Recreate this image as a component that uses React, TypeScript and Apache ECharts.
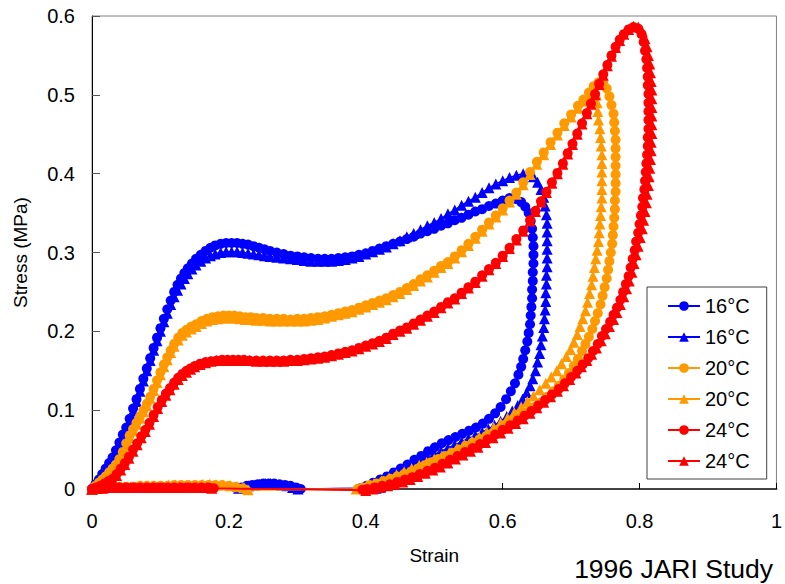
import React, { useEffect, useRef } from "react";
import * as echarts from "echarts";

const FONT = "'Liberation Sans', Arial, sans-serif";

const legendNames = ["16°C", "16°C", "20°C", "20°C", "24°C", "24°C"];
const xTicks = { min: 0, max: 1, interval: 0.2 };
const yTicks = { min: 0, max: 0.6, interval: 0.1 };

const blueCircles: number[][] = [
  [0,0],[.005,.006],[.01,.012],[.015,.019],[.02,.026],[.025,.033],[.03,.04],[.035,.049],[.04,.059],[.045,.069],[.05,.078],[.055,.089],[.06,.102],[.065,.114],[.07,.127],[.075,.14],[.08,.153],[.085,.166],[.09,.179],[.095,.192],[.1,.204],[.105,.216],[.11,.228],[.115,.239],[.12,.25],[.125,.259],[.13,.267],[.135,.274],[.14,.28],[.146,.286],[.152,.292],[.159,.297],[.166,.302],[.173,.306],[.18,.309],[.188,.311],[.196,.312],[.204,.312],[.212,.312],[.22,.311],[.228,.31],[.236,.308],[.244,.306],[.252,.304],[.26,.302],[.27,.3],[.28,.298],[.29,.296],[.3,.295],[.31,.294],[.32,.293],[.33,.292],[.34,.292],[.35,.292],[.36,.293],[.37,.294],[.38,.295],[.39,.297],[.4,.299],[.41,.302],[.42,.305],[.43,.308],[.44,.311],[.45,.314],[.46,.317],[.47,.32],[.48,.324],[.49,.327],[.5,.33],[.51,.334],[.52,.337],[.53,.341],[.54,.344],[.55,.348],[.56,.352],[.57,.355],[.58,.359],[.59,.362],[.6,.366],[.61,.369],[.619,.368],[.627,.364],[.633,.358],[.638,.35],[.641,.34],[.643,.33],[.644,.319],[.645,.308],[.645,.297],[.645,.286],[.644,.275],[.644,.264],[.643,.253],[.643,.242],[.642,.231],[.641,.22],[.64,.209],[.638,.198],[.636,.187],[.633,.176],[.63,.165],[.627,.155],[.623,.145],[.618,.134],[.612,.124],[.605,.114],[.597,.104],[.589,.096],[.58,.089],[.571,.083],[.561,.078],[.551,.074],[.541,.07],[.531,.066],[.521,.062],[.511,.058],[.501,.053],[.491,.048],[.481,.042],[.471,.037],[.461,.031],[.451,.026],[.441,.021],[.431,.016],[.421,.012],[.411,.008],[.401,.004],[.392,.001],[.305,0],[.298,.002],[.29,.004],[.282,.005],[.274,.006],[.266,.007],[.258,.007],[.25,.007],[.242,.006],[.234,.005],[.226,.004],[.218,.002],[.212,.001],[.02,.005],[0,0]
];

const blueTriangles: number[][] = [
  [0,0],[.005,.005],[.01,.011],[.015,.018],[.02,.025],[.025,.032],[.03,.039],[.035,.047],[.04,.057],[.045,.067],[.05,.076],[.055,.087],[.06,.099],[.065,.111],[.07,.124],[.075,.137],[.08,.15],[.085,.163],[.09,.176],[.095,.188],[.1,.2],[.105,.212],[.11,.223],[.115,.234],[.12,.244],[.125,.252],[.13,.26],[.135,.267],[.14,.273],[.146,.279],[.152,.284],[.159,.289],[.166,.293],[.173,.296],[.18,.298],[.188,.3],[.196,.301],[.204,.301],[.212,.301],[.22,.3],[.228,.299],[.236,.298],[.244,.297],[.252,.296],[.26,.295],[.27,.294],[.28,.293],[.29,.292],[.3,.291],[.31,.29],[.32,.289],[.33,.289],[.34,.289],[.35,.289],[.36,.29],[.37,.291],[.38,.293],[.39,.295],[.4,.298],[.41,.301],[.42,.304],[.43,.307],[.44,.311],[.45,.315],[.46,.32],[.47,.324],[.48,.329],[.49,.334],[.5,.338],[.51,.343],[.52,.349],[.53,.354],[.54,.36],[.55,.365],[.56,.37],[.57,.376],[.58,.382],[.59,.387],[.6,.391],[.61,.395],[.62,.398],[.63,.4],[.638,.4],[.645,.396],[.651,.389],[.656,.38],[.66,.37],[.662,.359],[.664,.348],[.665,.337],[.665,.326],[.665,.315],[.665,.304],[.665,.293],[.665,.282],[.664,.271],[.664,.26],[.663,.249],[.663,.238],[.662,.227],[.661,.216],[.66,.205],[.658,.194],[.656,.183],[.654,.172],[.651,.161],[.648,.15],[.644,.14],[.64,.131],[.635,.122],[.629,.114],[.622,.106],[.614,.099],[.606,.092],[.597,.086],[.588,.081],[.579,.076],[.57,.072],[.56,.068],[.55,.064],[.54,.06],[.53,.056],[.52,.052],[.51,.048],[.5,.044],[.49,.039],[.48,.033],[.47,.028],[.46,.022],[.45,.017],[.44,.012],[.43,.007],[.422,.003],[.415,.001],[.301,0],[.293,.002],[.285,.004],[.277,.005],[.269,.006],[.261,.007],[.253,.007],[.245,.006],[.237,.005],[.229,.004],[.221,.002],[.214,.001],[.02,.004],[0,0]
];

const orangeCircles: number[][] = [
  [0,0],[.005,.004],[.01,.008],[.015,.012],[.02,.016],[.025,.021],[.03,.026],[.035,.031],[.04,.038],[.045,.047],[.05,.058],[.055,.068],[.06,.076],[.065,.084],[.07,.092],[.075,.1],[.08,.108],[.085,.117],[.09,.127],[.095,.138],[.1,.148],[.105,.158],[.11,.167],[.115,.176],[.12,.184],[.126,.192],[.132,.198],[.138,.202],[.145,.206],[.152,.209],[.16,.213],[.168,.216],[.176,.218],[.184,.219],[.192,.22],[.2,.22],[.208,.22],[.216,.219],[.224,.218],[.232,.218],[.24,.217],[.25,.217],[.26,.216],[.27,.216],[.28,.216],[.29,.215],[.3,.216],[.31,.216],[.32,.217],[.33,.218],[.34,.219],[.35,.221],[.36,.223],[.37,.225],[.38,.227],[.39,.23],[.4,.233],[.41,.236],[.42,.239],[.43,.242],[.44,.246],[.45,.25],[.46,.255],[.47,.26],[.48,.266],[.49,.271],[.5,.277],[.51,.283],[.52,.288],[.53,.295],[.54,.303],[.55,.311],[.56,.32],[.57,.329],[.58,.338],[.59,.347],[.6,.356],[.61,.366],[.62,.376],[.63,.389],[.64,.402],[.65,.415],[.66,.427],[.67,.44],[.68,.452],[.69,.464],[.7,.475],[.71,.486],[.718,.494],[.726,.503],[.733,.511],[.74,.516],
  [.747,.515],[.752,.508],[.756,.498],[.759,.487],[.762,.476],[.763,.465],[.764,.454],[.765,.443],[.765,.432],[.765,.421],[.765,.41],[.765,.399],[.765,.388],[.765,.377],[.764,.366],[.764,.355],[.763,.344],[.762,.333],[.761,.322],[.76,.311],[.758,.3],[.756,.289],[.754,.278],[.752,.267],[.749,.256],[.746,.245],[.743,.234],[.739,.223],[.735,.213],[.731,.203],[.726,.193],[.721,.184],[.716,.175],[.71,.165],[.704,.156],[.697,.147],[.69,.139],[.682,.131],[.674,.124],[.665,.117],[.656,.11],[.646,.104],[.636,.098],[.626,.092],[.616,.086],[.606,.081],[.596,.076],[.586,.071],[.576,.067],[.566,.063],[.556,.059],[.546,.055],[.536,.05],[.526,.046],[.516,.042],[.506,.038],[.496,.034],[.486,.03],[.476,.026],[.466,.022],[.456,.019],[.446,.016],[.436,.013],[.426,.01],[.416,.007],[.406,.005],[.396,.002],[.388,0],
  [.225,-.001],[.22,.001],[.21,.003],[.2,.004],[.19,.005],[.18,.005],[.17,.005],[.16,.005],[.15,.005],[.14,.005],[.13,.005],[.12,.005],[.11,.004],[.1,.004],[.09,.004],[.08,.004],[.07,.004],[.06,.003],[.05,.003],[.04,.003],[.03,.002],[.02,.002],[.01,.001],[0,0]
];

const orangeTriangles: number[][] = [
  [0,0],[.005,.004],[.01,.008],[.015,.012],[.02,.016],[.025,.02],[.03,.025],[.035,.03],[.04,.036],[.045,.045],[.05,.055],[.055,.065],[.06,.074],[.065,.082],[.07,.09],[.075,.098],[.08,.106],[.085,.115],[.09,.125],[.095,.135],[.1,.145],[.105,.155],[.11,.164],[.115,.173],[.12,.181],[.126,.189],[.132,.195],[.138,.199],[.145,.203],[.152,.206],[.16,.21],[.168,.213],[.176,.215],[.184,.216],[.192,.217],[.2,.217],[.208,.217],[.216,.216],[.224,.215],[.232,.215],[.24,.214],[.25,.214],[.26,.213],[.27,.213],[.28,.213],[.29,.213],[.3,.213],[.31,.213],[.32,.214],[.33,.215],[.34,.217],[.35,.219],[.36,.221],[.37,.223],[.38,.225],[.39,.228],[.4,.231],[.41,.234],[.42,.237],[.43,.24],[.44,.244],[.45,.248],[.46,.253],[.47,.258],[.48,.264],[.49,.269],[.5,.275],[.51,.281],[.52,.286],[.53,.293],[.54,.301],[.55,.309],[.56,.318],[.57,.327],[.58,.336],[.59,.345],[.6,.354],[.61,.364],[.62,.374],[.63,.386],[.64,.399],[.65,.412],[.66,.424],[.67,.437],[.68,.449],[.69,.461],[.7,.472],[.71,.483],[.718,.492],[.726,.501],[.731,.507],[.735,.507],
  [.737,.5],[.738,.49],[.739,.479],[.74,.468],[.742,.457],[.743,.446],[.744,.435],[.745,.424],[.745,.413],[.745,.402],[.745,.391],[.745,.38],[.745,.369],[.744,.358],[.743,.347],[.742,.336],[.741,.325],[.74,.314],[.738,.303],[.736,.292],[.734,.281],[.732,.27],[.73,.259],[.727,.248],[.724,.237],[.721,.226],[.717,.216],[.713,.206],[.709,.196],[.704,.186],[.699,.177],[.693,.168],[.686,.159],[.679,.15],[.671,.142],[.663,.134],[.654,.126],[.645,.118],[.636,.111],[.627,.104],[.617,.097],[.607,.09],[.597,.084],[.587,.078],[.577,.072],[.566,.066],[.555,.061],[.544,.056],[.533,.051],[.522,.046],[.511,.042],[.5,.038],[.489,.034],[.478,.03],[.467,.026],[.456,.022],[.445,.018],[.434,.014],[.423,.01],[.412,.007],[.401,.004],[.392,.001],[.386,0],
  [.228,-.001],[.222,.002],[.212,.003],[.202,.004],[.192,.005],[.182,.005],[.172,.006],[.162,.006],[.152,.005],[.142,.005],[.132,.005],[.122,.005],[.112,.005],[.102,.004],[.092,.004],[.082,.004],[.072,.004],[.062,.003],[.052,.003],[.042,.003],[.032,.002],[.022,.002],[.012,.001],[0,0]
];

const redCircles: number[][] = [
  [0,0],[.006,.002],[.012,.004],[.018,.007],[.024,.01],[.03,.013],[.036,.019],[.042,.026],[.048,.033],[.054,.041],[.06,.05],[.066,.058],[.072,.067],[.078,.075],[.084,.084],[.09,.094],[.096,.104],[.102,.113],[.108,.121],[.114,.128],[.12,.135],[.126,.141],[.132,.146],[.138,.15],[.144,.153],[.15,.156],[.158,.159],[.166,.161],[.174,.162],[.182,.163],[.19,.164],[.198,.164],[.206,.164],[.214,.164],[.222,.164],[.23,.163],[.24,.163],[.25,.163],[.26,.163],[.27,.163],[.28,.163],[.29,.164],[.3,.164],[.31,.165],[.32,.166],[.33,.167],[.34,.168],[.35,.17],[.36,.172],[.37,.174],[.38,.176],[.39,.179],[.4,.182],[.41,.185],[.42,.188],[.43,.192],[.44,.197],[.45,.201],[.46,.205],[.47,.21],[.48,.215],[.49,.22],[.5,.225],[.51,.231],[.52,.237],[.53,.242],[.54,.249],[.55,.256],[.56,.263],[.57,.271],[.58,.279],[.59,.287],[.6,.296],[.61,.306],[.62,.317],[.63,.328],[.64,.341],[.648,.353],[.656,.365],[.664,.377],[.672,.389],[.68,.401],[.688,.413],[.695,.426],[.702,.438],[.709,.451],[.716,.464],[.723,.477],[.729,.489],[.735,.501],[.741,.514],[.747,.526],[.753,.538],[.759,.55],[.765,.561],[.771,.57],[.777,.577],[.784,.583],[.791,.586],
  [.798,.584],[.803,.577],[.806,.567],[.808,.556],[.81,.545],[.811,.534],[.812,.523],[.812,.512],[.813,.501],[.813,.49],[.813,.479],[.813,.468],[.813,.457],[.812,.446],[.812,.435],[.811,.424],[.81,.413],[.809,.402],[.808,.391],[.807,.38],[.805,.369],[.804,.358],[.802,.347],[.8,.336],[.798,.325],[.795,.314],[.793,.303],[.79,.292],[.787,.281],[.784,.27],[.78,.26],[.776,.25],[.772,.24],[.767,.23],[.762,.221],[.757,.212],[.751,.203],[.745,.194],[.739,.184],[.732,.175],[.725,.166],[.717,.158],[.709,.15],[.7,.142],[.691,.134],[.682,.127],[.672,.12],[.662,.113],[.652,.106],[.642,.099],[.632,.093],[.622,.087],[.611,.081],[.6,.075],[.589,.069],[.578,.063],[.567,.057],[.556,.052],[.545,.047],[.534,.042],[.523,.037],[.512,.032],[.501,.027],[.49,.023],[.479,.019],[.468,.015],[.457,.012],[.446,.009],[.435,.006],[.424,.004],[.413,.002],[.402,0],[.395,-.001],
  [.178,.001],[.17,.002],[.16,.002],[.15,.002],[.14,.002],[.13,.002],[.12,.002],[.11,.002],[.1,.002],[.09,.002],[.08,.002],[.07,.002],[.06,.002],[.05,.002],[.04,.002],[.03,.002],[.02,.001],[.01,.001],[0,0]
];

const redTriangles: number[][] = [
  [0,0],[.006,.001],[.012,.003],[.018,.006],[.024,.009],[.03,.012],[.036,.017],[.042,.024],[.048,.031],[.054,.039],[.06,.048],[.066,.056],[.072,.065],[.078,.073],[.084,.082],[.09,.092],[.096,.102],[.102,.111],[.108,.119],[.114,.126],[.12,.133],[.126,.139],[.132,.144],[.138,.148],[.144,.152],[.15,.155],[.158,.158],[.166,.16],[.174,.162],[.182,.163],[.19,.163],[.198,.163],[.206,.163],[.214,.163],[.222,.163],[.23,.163],[.24,.162],[.25,.162],[.26,.162],[.27,.162],[.28,.162],[.29,.163],[.3,.163],[.31,.164],[.32,.165],[.33,.166],[.34,.167],[.35,.169],[.36,.171],[.37,.173],[.38,.175],[.39,.178],[.4,.181],[.41,.184],[.42,.187],[.43,.191],[.44,.196],[.45,.2],[.46,.204],[.47,.209],[.48,.214],[.49,.219],[.5,.224],[.51,.23],[.52,.236],[.53,.241],[.54,.248],[.55,.255],[.56,.262],[.57,.27],[.58,.278],[.59,.286],[.6,.295],[.61,.305],[.62,.316],[.63,.327],[.64,.34],[.648,.352],[.656,.364],[.664,.376],[.672,.388],[.68,.4],[.688,.412],[.695,.425],[.702,.437],[.709,.45],[.716,.463],[.723,.476],[.729,.488],[.735,.5],[.741,.513],[.747,.525],[.753,.537],[.759,.549],[.765,.56],[.771,.569],[.777,.577],[.784,.583],[.791,.587],
  [.798,.586],[.804,.58],[.808,.571],[.811,.561],[.813,.55],[.815,.539],[.816,.528],[.817,.517],[.818,.506],[.818,.495],[.818,.484],[.818,.473],[.818,.462],[.818,.451],[.817,.44],[.817,.429],[.816,.418],[.815,.407],[.814,.396],[.813,.385],[.811,.374],[.81,.363],[.808,.352],[.806,.341],[.804,.33],[.801,.319],[.798,.308],[.795,.297],[.792,.286],[.789,.275],[.785,.264],[.781,.254],[.777,.244],[.772,.234],[.767,.224],[.762,.215],[.756,.206],[.75,.197],[.744,.188],[.737,.179],[.73,.171],[.723,.163],[.715,.155],[.707,.147],[.698,.139],[.689,.131],[.68,.124],[.67,.117],[.66,.11],[.65,.103],[.64,.096],[.63,.089],[.619,.083],[.608,.077],[.597,.071],[.586,.065],[.575,.059],[.564,.053],[.553,.048],[.542,.043],[.531,.038],[.52,.033],[.509,.028],[.498,.024],[.487,.02],[.476,.016],[.465,.012],[.454,.009],[.443,.006],[.432,.004],[.421,.002],[.41,0],[.4,-.002],
  [.175,.001],[.168,.002],[.16,.002],[.152,.002],[.144,.002],[.136,.002],[.128,.002],[.12,.002],[.112,.002],[.104,.002],[.096,.002],[.088,.002],[.08,.002],[.072,.002],[.064,.002],[.056,.002],[.048,.002],[.04,.002],[.032,.002],[.024,.002],[.016,.001],[.008,.001],[0,0]
];

const BLUE = "#0000FF";
const ORANGE = "#FF9900";
const RED = "#FF0000";

function mkSeries(idx: number, data: number[][], color: string, symbol: string) {
  return {
    name: legendNames[idx] + "#" + idx,
    type: "line",
    data,
    symbol,
    symbolSize: symbol === "circle" ? 10 : 11,
    showSymbol: true,
    clip: false,
    silent: true,
    lineStyle: { color, width: 1.5 },
    itemStyle: { color },
    emphasis: { disabled: true },
    z: 2 + idx,
  };
}

export default function App() {
  const ref = useRef<HTMLDivElement>(null);
  useEffect(() => {
    if (!ref.current) return;
    const chart = echarts.init(ref.current, undefined, { renderer: "svg" });
    const series = [
      mkSeries(0, blueCircles, BLUE, "circle"),
      mkSeries(1, blueTriangles, BLUE, "triangle"),
      mkSeries(2, orangeCircles, ORANGE, "circle"),
      mkSeries(3, orangeTriangles, ORANGE, "triangle"),
      mkSeries(4, redCircles, RED, "circle"),
      mkSeries(5, redTriangles, RED, "triangle"),
    ];
    chart.setOption({
      animation: false,
      backgroundColor: "#fff",
      textStyle: { fontFamily: FONT },
      grid: { left: 92, right: 4, top: 16, bottom: 95, show: true, borderColor: "#808080", borderWidth: 1 },
      xAxis: {
        type: "value", ...xTicks,
        axisLine: { show: true, onZero: false, lineStyle: { color: "#404040", width: 2 } },
        axisTick: { show: true, inside: true, length: 6, lineStyle: { color: "#000" } },
        splitLine: { show: false },
        axisLabel: { fontSize: 20, color: "#000", margin: 22, fontFamily: FONT },
        name: "Strain", nameLocation: "middle", nameGap: 57,
        nameTextStyle: { fontSize: 19, color: "#000", fontFamily: FONT },
      },
      yAxis: {
        type: "value", ...yTicks,
        axisLine: { show: true, onZero: false, lineStyle: { color: "#000", width: 1 } },
        axisTick: { show: true, inside: true, length: 8, lineStyle: { color: "#555" } },
        splitLine: { show: false },
        axisLabel: { fontSize: 20, color: "#000", margin: 17, fontFamily: FONT },
        name: "Stress (MPa)", nameLocation: "middle", nameGap: 62, nameRotate: 90,
        nameTextStyle: { fontSize: 19, color: "#000", fontFamily: FONT },
      },
      legend: {
        orient: "vertical", left: 647, top: 287,
        itemWidth: 32, itemHeight: 12, itemGap: 11,
        padding: [9, 17, 8, 20],
        borderColor: "#404040", borderWidth: 1, backgroundColor: "#fff",
        textStyle: { fontSize: 20, color: "#000", fontFamily: FONT, lineHeight: 20 },
        formatter: (n: string) => n.split("#")[0],
        data: series.map((s) => s.name),
        selectedMode: false,
      },
      graphic: [
        { type: "text", right: 12, top: 555, style: { text: "1996 JARI Study", fontSize: 26.5, fill: "#000", fontFamily: FONT } },
      ],
      series,
    });
    return () => chart.dispose();
  }, []);
  return <div ref={ref} style={{ position: "absolute", left: 0, top: 0, width: 785, height: 584 }} />;
}
